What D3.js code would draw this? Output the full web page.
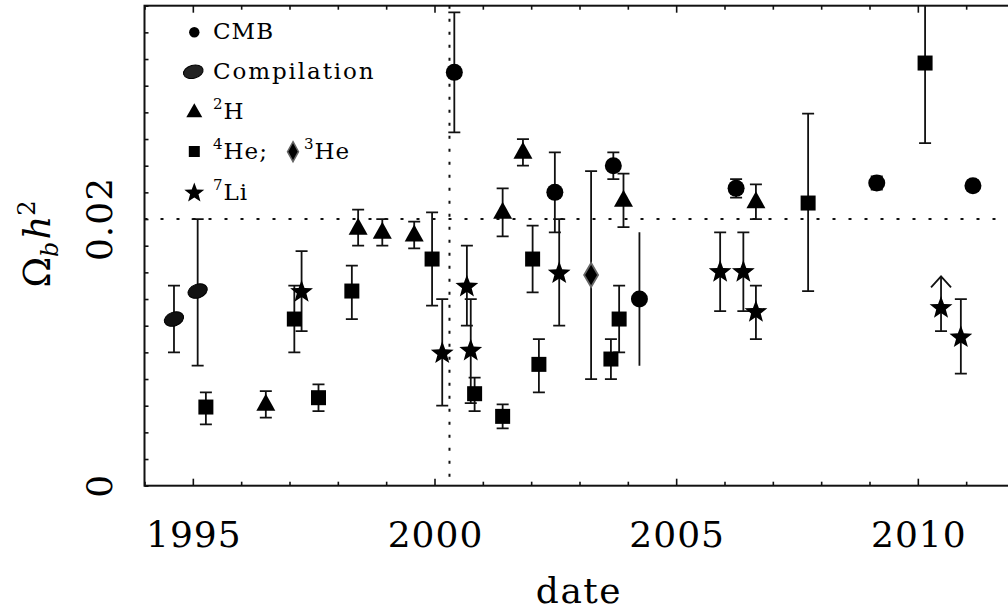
<!DOCTYPE html>
<html>
<head>
<meta charset="utf-8">
<script src="https://cdn.jsdelivr.net/npm/d3@7"></script>
<style>
html,body{margin:0;padding:0;background:#fff;}
svg{display:block;}
text{font-family:"DejaVu Serif",serif;fill:#000;}
</style>
</head>
<body>
<svg id="chart" width="1008" height="612"></svg>
<script>
// ---- data: [year, value, lower, upper] ----
const cmb = [
  [2000.41, 0.0310, 0.0265, 0.0355],
  [2002.49, 0.0220, 0.0190, 0.0250],
  [2003.70, 0.0240, 0.0230, 0.0250],
  [2006.24, 0.0223, 0.0216, 0.0230],
  [2009.15, 0.0227, 0.0222, 0.0232],
  [2011.14, 0.0225, 0.0221, 0.0229]
];
const cmbNoCaps = [
  [2004.24, 0.0140, 0.0090, 0.0190]
];
const compilation = [
  [1994.61, 0.0125, 0.0100, 0.0150],
  [1995.10, 0.0146, 0.0090, 0.0200]
];
const deuterium = [
  [1996.51, 0.0061, 0.0051, 0.0071],
  [1998.42, 0.0193, 0.0180, 0.0207],
  [1998.92, 0.0190, 0.0180, 0.0200],
  [1999.58, 0.0188, 0.0178, 0.0198],
  [2001.41, 0.0205, 0.0187, 0.0223],
  [2001.83, 0.0250, 0.0240, 0.0260],
  [2003.91, 0.0214, 0.0194, 0.0234],
  [2006.65, 0.0213, 0.0200, 0.0226]
];
const helium4 = [
  [1995.27, 0.0059, 0.0046, 0.0070],
  [1997.10, 0.0125, 0.0100, 0.0150],
  [1997.60, 0.0066, 0.0056, 0.0076],
  [1998.29, 0.0146, 0.0125, 0.0165],
  [1999.95, 0.0170, 0.0135, 0.0205],
  [2000.83, 0.0069, 0.0056, 0.0081],
  [2001.41, 0.0052, 0.0043, 0.0061],
  [2002.03, 0.0170, 0.0145, 0.0195],
  [2002.16, 0.0091, 0.0070, 0.0110],
  [2003.65, 0.0095, 0.0080, 0.0110],
  [2003.82, 0.0125, 0.0100, 0.0150],
  [2007.73, 0.0212, 0.0146, 0.0279],
  [2010.15, 0.0317, 0.0257, 0.0377]
];
const helium3 = [
  [2003.24, 0.0158, 0.0080, 0.0236]
];
const lithium = [
  [1997.25, 0.0146, 0.0116, 0.0176],
  [2000.16, 0.0100, 0.0060, 0.0140],
  [2000.67, 0.0150, 0.0120, 0.0180],
  [2000.75, 0.0102, 0.0062, 0.0140],
  [2002.58, 0.0160, 0.0120, 0.0200],
  [2005.91, 0.0161, 0.0131, 0.0190],
  [2006.39, 0.0161, 0.0131, 0.0190],
  [2006.65, 0.0131, 0.0110, 0.0150],
  [2010.89, 0.0112, 0.0084, 0.0140]
];
// lower limit: [year, value, lower, arrowTip]
const lithiumLimit = [
  [2010.48, 0.0134, 0.0116, 0.0157]
];
const refValue = 0.02;
const refDate = 2000.31;
const xDomain = [1994, 2012];
const yDomain = [0, 0.036];
const xMajorTicks = [1995, 2000, 2005, 2010];
const yLabelTicks = [0, 0.02];

// ---- layout ----
const svg = d3.select("#chart");
const L = 144.5, T = 5.7, R = 1014.5, B = 485.7;
const x = d3.scaleLinear().domain(xDomain).range([L, R]);
const y = d3.scaleLinear().domain(yDomain).range([B, T]);
const ink = "#111";

svg.append("defs").append("clipPath").attr("id","clip")
  .append("rect").attr("x",L).attr("y",T).attr("width",R-L).attr("height",B-T);

// axes ticks
const minorX = d3.range(xDomain[0], xDomain[1]+1, 1).filter(v => !xMajorTicks.includes(v));
const minorY = d3.range(0, 0.0361, 0.002);

function tickAxis(axisFn, scale, vals, size, tr){
  const g = svg.append("g").attr("transform", tr)
    .call(axisFn(scale).tickValues(vals).tickSize(size).tickFormat(""));
  g.select(".domain").remove();
  g.selectAll(".tick line").attr("stroke", ink).attr("stroke-width", 1.6);
  return g;
}
tickAxis(d3.axisBottom, x, xMajorTicks, -7, `translate(0,${B})`);
tickAxis(d3.axisBottom, x, minorX, -4, `translate(0,${B})`);
tickAxis(d3.axisTop, x, xMajorTicks, -7, `translate(0,${T})`);
tickAxis(d3.axisTop, x, minorX, -4, `translate(0,${T})`);
tickAxis(d3.axisLeft, y, minorY, -4, `translate(${L},0)`);

// frame
svg.append("rect").attr("x",L).attr("y",T).attr("width",R-L).attr("height",B-T)
  .attr("fill","none").attr("stroke",ink).attr("stroke-width",2);

// x tick labels
svg.append("g").selectAll("text").data(xMajorTicks).join("text")
  .attr("x", d => x(d)+1).attr("y", 547)
  .attr("text-anchor","middle").attr("font-size",36).attr("letter-spacing",1)
  .text(d => d);
svg.append("text").attr("x",579).attr("y",603).attr("text-anchor","middle")
  .attr("font-size",36).attr("letter-spacing",1.5).text("date");

// y tick labels (rotated)
svg.append("g").selectAll("text").data(yLabelTicks).join("text")
  .attr("transform", d => `translate(112,${y(d)}) rotate(-90)`)
  .attr("text-anchor","middle").attr("font-size",36).attr("letter-spacing",1)
  .text(d => d === 0 ? "0" : d3.format(".2f")(d));

// y axis title
const yt = svg.append("text").attr("transform","translate(50,244) rotate(-90)")
  .attr("text-anchor","middle").attr("font-size",37);
yt.append("tspan").text("Ω");
yt.append("tspan").attr("font-size",24).attr("font-style","italic").attr("dy",8).text("b");
yt.append("tspan").attr("font-style","italic").attr("dy",-8).attr("dx",2).text("h");
yt.append("tspan").attr("font-size",24).attr("dy",-15).text("2");

// reference dotted lines
const plot = svg.append("g").attr("clip-path","url(#clip)");
plot.append("line").attr("x1",L).attr("x2",R).attr("y1",y(refValue)).attr("y2",y(refValue))
  .attr("stroke",ink).attr("stroke-width",2).attr("stroke-dasharray","3,13");
plot.append("line").attr("x1",x(refDate)).attr("x2",x(refDate)).attr("y1",T).attr("y2",B)
  .attr("stroke",ink).attr("stroke-width",2).attr("stroke-dasharray","3,10");

// error bars
function errBars(data, caps){
  const g = plot.append("g").attr("stroke",ink).attr("stroke-width",1.8);
  data.forEach(d => {
    const cx = x(d[0]);
    g.append("line").attr("x1",cx).attr("x2",cx).attr("y1",y(d[2])).attr("y2",y(d[3]));
    if (caps){
      [d[2], d[3]].forEach(v => g.append("line").attr("x1",cx-6).attr("x2",cx+6)
        .attr("y1",y(v)).attr("y2",y(v)));
    }
  });
}
[cmb, compilation, deuterium, helium4, helium3, lithium].forEach(s => errBars(s, true));
errBars(cmbNoCaps, false);
// lower-limit bar with arrow
lithiumLimit.forEach(d => {
  const cx = x(d[0]);
  const g = plot.append("g").attr("stroke",ink).attr("stroke-width",1.8).attr("fill","none");
  g.append("line").attr("x1",cx).attr("x2",cx).attr("y1",y(d[2])).attr("y2",y(d[3]));
  g.append("line").attr("x1",cx-6).attr("x2",cx+6).attr("y1",y(d[2])).attr("y2",y(d[2]));
  g.append("path").attr("d",`M${cx-10},${y(d[3])+11} L${cx},${y(d[3])} L${cx+10},${y(d[3])+11}`);
});

// marker shapes
function starPath(R0){
  const pts = [];
  for (let i=0;i<10;i++){
    const a = -Math.PI/2 + i*Math.PI/5;
    const r = i%2===0 ? R0 : R0*0.42;
    pts.push([r*Math.cos(a), r*Math.sin(a)]);
  }
  return "M" + pts.map(p => p.join(",")).join("L") + "Z";
}
function triPath(w,h){ return `M0,${-h*0.62}L${w/2},${h*0.38}L${-w/2},${h*0.38}Z`; }
function diaPath(w,h){ return `M0,${-h/2}L${w/2},0L0,${h/2}L${-w/2},0Z`; }

const mk = plot.append("g");
mk.selectAll(".cmb").data(cmb.concat(cmbNoCaps)).join("circle")
  .attr("cx", d => x(d[0])).attr("cy", d => y(d[1])).attr("r", 8.5).attr("fill","#000");
mk.selectAll(".comp").data(compilation).join("ellipse")
  .attr("transform", d => `translate(${x(d[0])},${y(d[1])}) rotate(-20)`)
  .attr("rx",10).attr("ry",6.8).attr("fill","#111").attr("stroke","#000").attr("stroke-width",1);
mk.selectAll(".deut").data(deuterium).join("path")
  .attr("transform", d => `translate(${x(d[0])},${y(d[1])})`)
  .attr("d", triPath(19,17)).attr("fill","#000");
mk.selectAll(".he4").data(helium4).join("rect")
  .attr("x", d => x(d[0])-7.5).attr("y", d => y(d[1])-7.5)
  .attr("width",15).attr("height",15).attr("fill","#000");
mk.selectAll(".he3").data(helium3).join("path")
  .attr("transform", d => `translate(${x(d[0])},${y(d[1])})`)
  .attr("d", diaPath(14,24)).attr("fill","#000").attr("stroke","#666").attr("stroke-width",1.8);
mk.selectAll(".li").data(lithium.concat(lithiumLimit)).join("path")
  .attr("transform", d => `translate(${x(d[0])},${y(d[1])+1})`)
  .attr("d", starPath(12)).attr("fill","#000");

// legend
const lg = svg.append("g");
const lx = 194.3, tx = 213;
lg.append("circle").attr("cx",lx).attr("cy",32.3).attr("r",5.2).attr("fill","#000");
lg.append("ellipse").attr("transform",`translate(${lx-1},${71.7}) rotate(-15)`)
  .attr("rx",10).attr("ry",6.5).attr("fill","#222").attr("stroke","#000").attr("stroke-width",1);
lg.append("path").attr("transform",`translate(${lx},${112})`).attr("d",triPath(16,14)).attr("fill","#000");
lg.append("rect").attr("x",lx-5.5).attr("y",146).attr("width",11).attr("height",11).attr("fill","#000");
lg.append("path").attr("transform",`translate(293,151.7)`).attr("d",diaPath(11,20))
  .attr("fill","#000").attr("stroke","#666").attr("stroke-width",1.5);
lg.append("path").attr("transform",`translate(${lx},${193})`).attr("d",starPath(10.5)).attr("fill","#000");

const fs = 23, sfs = 15;
lg.append("text").attr("x",tx).attr("y",39).attr("font-size",fs).attr("letter-spacing",1).text("CMB");
lg.append("text").attr("x",tx).attr("y",79).attr("font-size",fs).attr("letter-spacing",1.9).text("Compilation");
function supLabel(xp, yp, sup, main){
  const t = lg.append("text").attr("x",xp).attr("y",yp).attr("font-size",fs).attr("letter-spacing",1);
  t.append("tspan").attr("font-size",sfs).attr("dy",-10).text(sup);
  t.append("tspan").attr("dy",10).text(main);
}
supLabel(tx, 118.5, "2", "H");
supLabel(tx, 158.5, "4", "He;");
supLabel(304, 158.5, "3", "He");
supLabel(tx, 199.5, "7", "Li");
</script>
</body>
</html>
